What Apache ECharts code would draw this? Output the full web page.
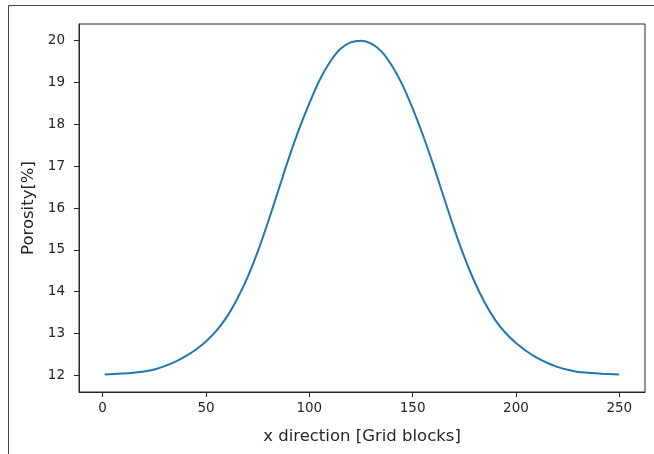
<!DOCTYPE html>
<html>
<head>
<meta charset="utf-8">
<script src="https://cdn.jsdelivr.net/npm/echarts@6/dist/echarts.min.js"></script>
<style>
  html, body { margin: 0; padding: 0; background: #fff; }
  #chart { width: 654px; height: 454px; }
</style>
</head>
<body>
<div id="chart"></div>
<script>
  // grid block positions and porosity
  const gridBlocks = [1, 5, 10, 15, 20, 25, 30, 35, 40, 45, 50, 55, 60, 65, 70, 75, 80, 85, 90, 95,
    100, 105, 110, 115, 120, 125, 130, 135, 140, 145, 150, 155, 160, 165, 170, 175, 180, 185, 190, 195,
    200, 205, 210, 215, 220, 225, 230, 235, 240, 245, 250];
  const porosity = [12.02, 12.03, 12.04, 12.06, 12.09, 12.14, 12.22, 12.32, 12.45, 12.61, 12.81, 13.06, 13.39, 13.82, 14.33, 14.95, 15.66, 16.42, 17.18, 17.88,
    18.50, 19.06, 19.49, 19.80, 19.96, 20.00, 19.93, 19.74, 19.40, 18.95, 18.38, 17.74, 17.03, 16.27, 15.52, 14.83, 14.23, 13.73, 13.32, 13.01,
    12.77, 12.58, 12.42, 12.30, 12.20, 12.13, 12.08, 12.06, 12.04, 12.03, 12.02];
  const xTicks = [0, 50, 100, 150, 200, 250];
  const yTicks = [12, 13, 14, 15, 16, 17, 18, 19, 20];

  const axisColor = '#262626';
  const font = 'DejaVu Sans';

  let myChart = echarts.init(document.getElementById('chart'));
  myChart.setOption({
    animation: false,
    backgroundColor: '#fff',
    textStyle: { fontFamily: font },
    graphic: [{
      // outer frame of the notebook cell
      type: 'rect',
      shape: { x: 8.5, y: 5.5, width: 700, height: 500 },
      style: { fill: 'none', stroke: '#444', lineWidth: 1 },
      silent: true
    }],
    grid: {
      left: 79, right: 9, top: 24, bottom: 62,
      show: true, borderColor: axisColor, borderWidth: 1, backgroundColor: 'transparent'
    },
    xAxis: {
      type: 'value',
      min: -11.45, max: 262.45,
      name: 'x direction [Grid blocks]',
      nameLocation: 'middle',
      nameGap: 36,
      nameTextStyle: { fontSize: 16.5, color: axisColor, fontFamily: font },
      axisLine: { show: true, onZero: false, lineStyle: { color: axisColor, width: 1 } },
      axisTick: { show: true, length: 5, customValues: xTicks, lineStyle: { color: axisColor } },
      axisLabel: { customValues: xTicks, fontSize: 13.5, color: axisColor, margin: 9, fontFamily: font },
      splitLine: { show: false }
    },
    yAxis: {
      type: 'value',
      min: 11.6, max: 20.4,
      name: 'Porosity[%]',
      nameLocation: 'middle',
      nameGap: 40,
      nameTextStyle: { fontSize: 16.5, color: axisColor, fontFamily: font },
      axisLine: { show: true, onZero: false, lineStyle: { color: axisColor, width: 1 } },
      axisTick: { show: true, length: 5, customValues: yTicks, lineStyle: { color: axisColor } },
      axisLabel: { customValues: yTicks, fontSize: 13.5, color: axisColor, margin: 14, fontFamily: font },
      splitLine: { show: false }
    },
    series: [{
      type: 'line',
      data: gridBlocks.map((x, i) => [x, porosity[i]]),
      smooth: 0.3,
      showSymbol: false,
      lineStyle: { color: '#1f77b4', width: 2 }
    }]
  });
</script>
</body>
</html>
